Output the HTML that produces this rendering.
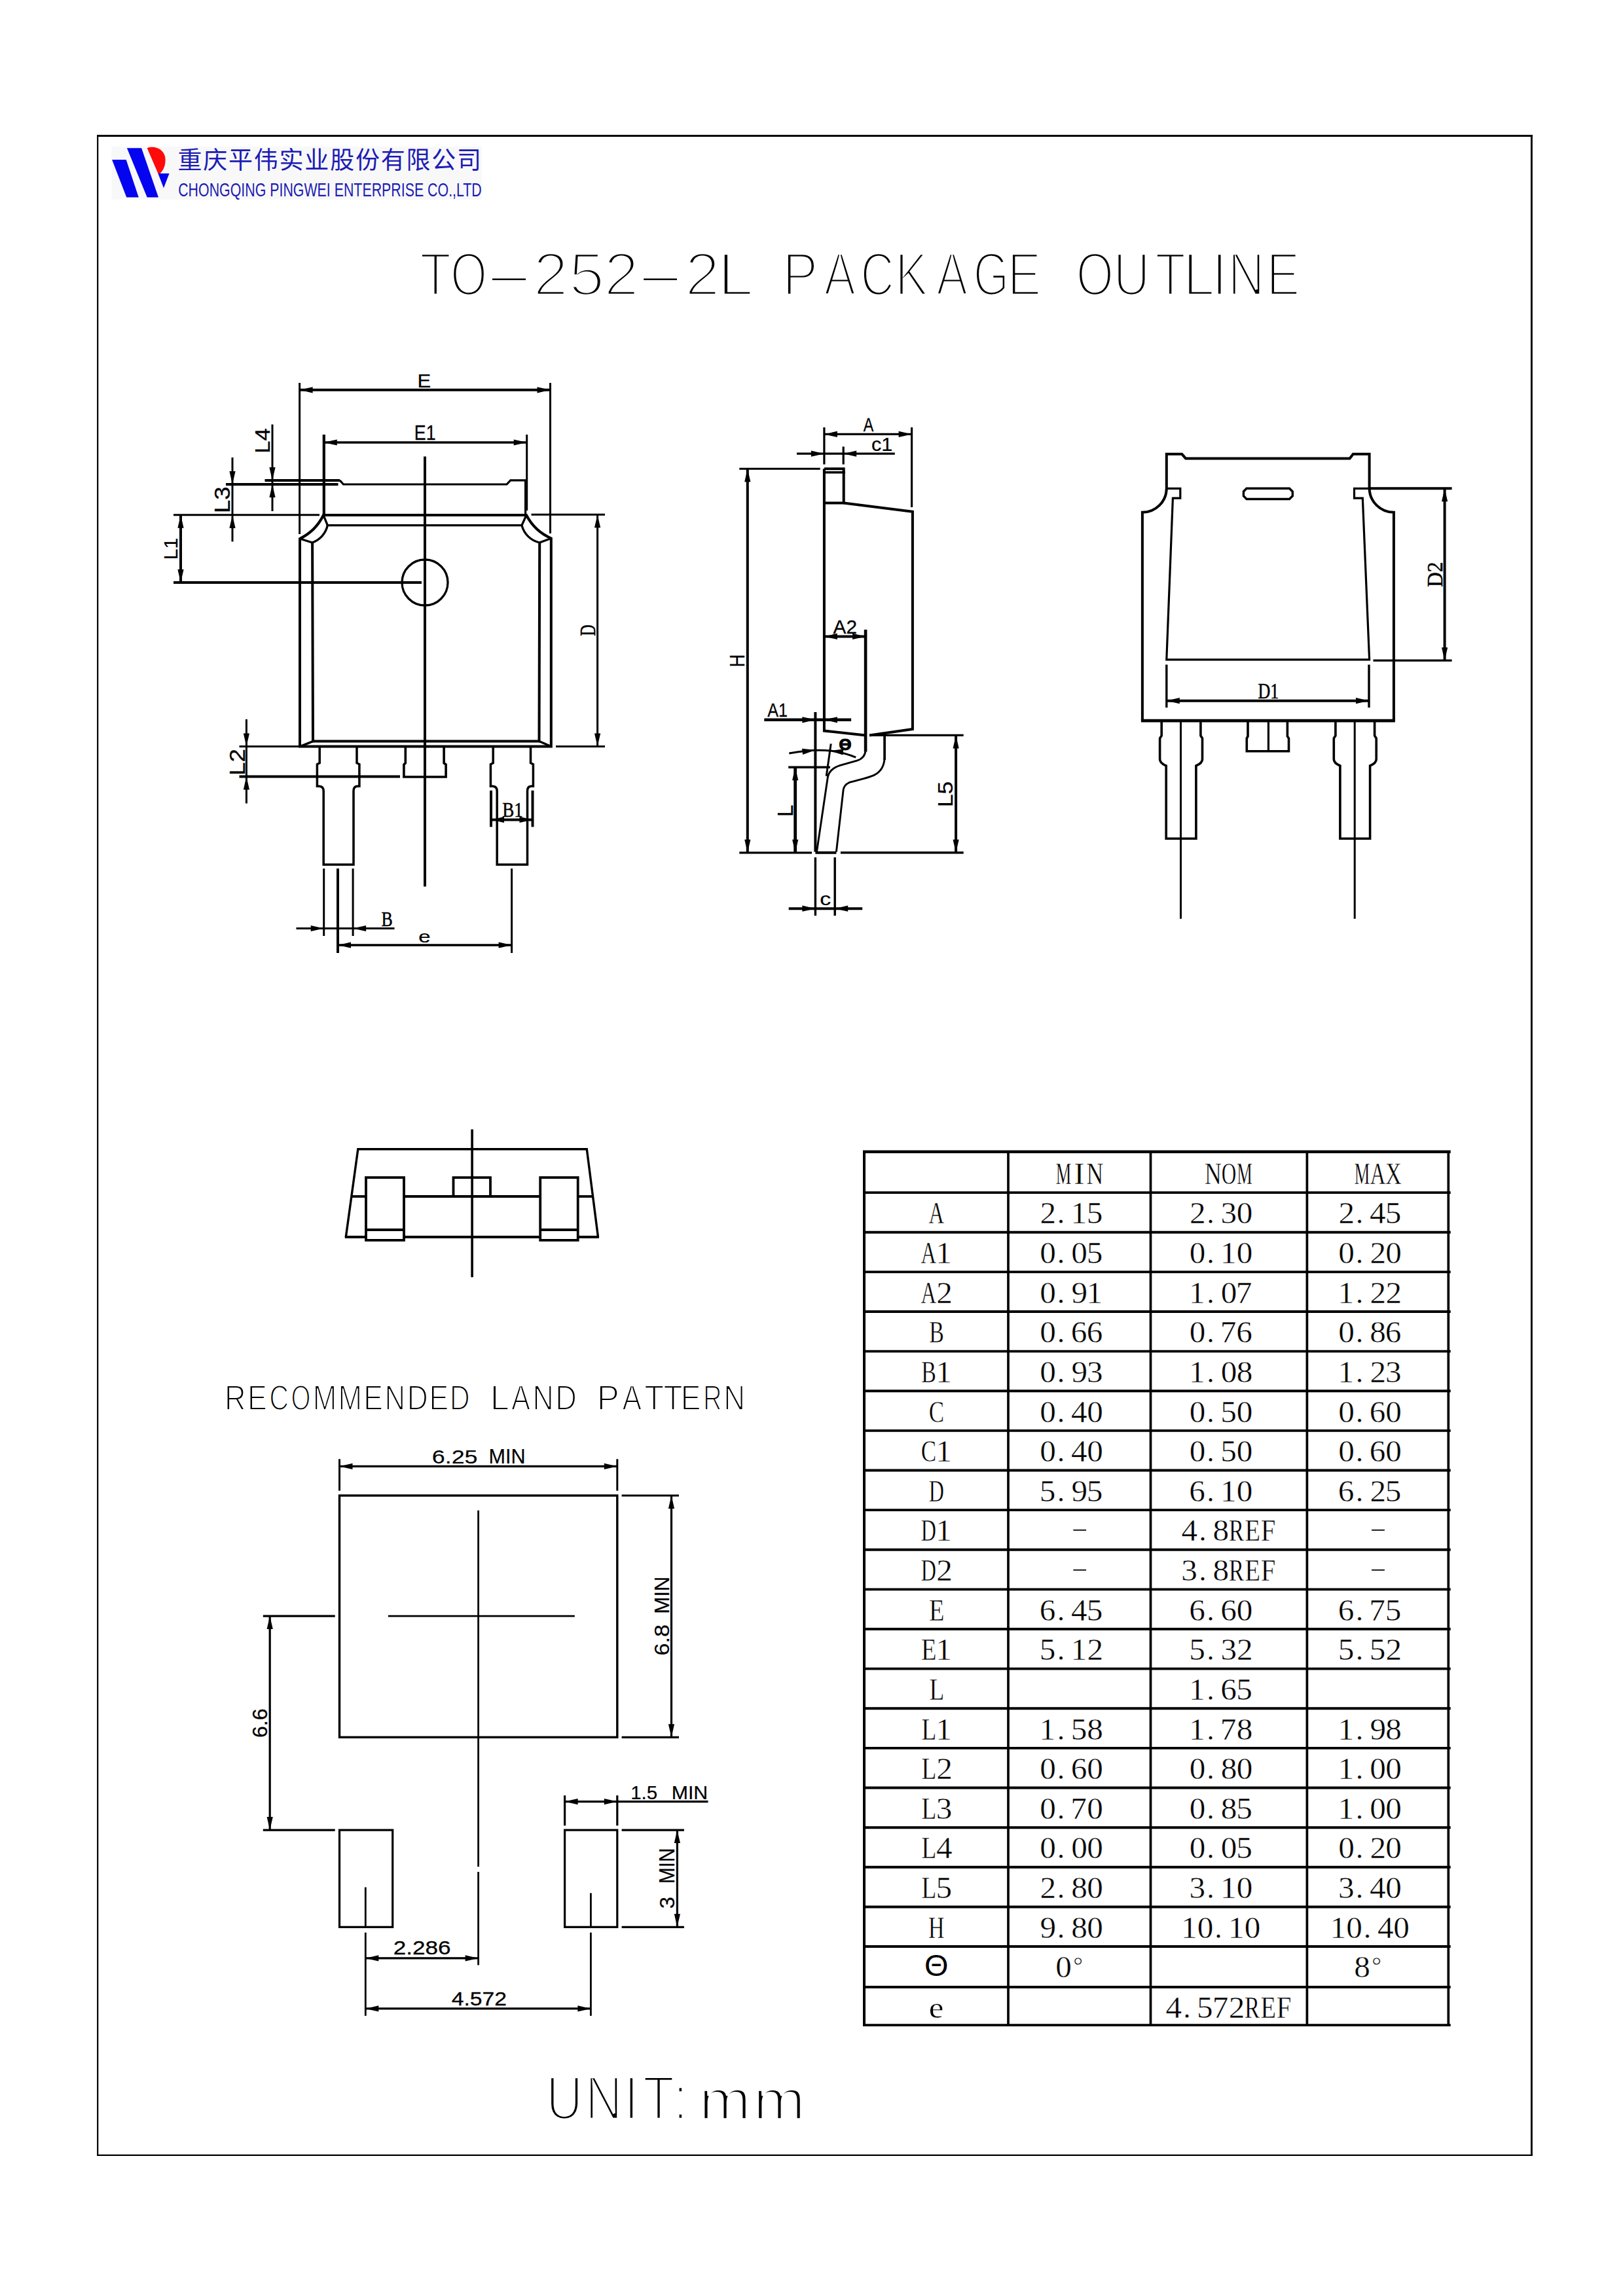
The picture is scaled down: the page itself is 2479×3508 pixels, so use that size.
<!DOCTYPE html>
<html lang="zh"><head><meta charset="utf-8"><title>TO-252-2L PACKAGE OUTLINE</title>
<style>
html,body{margin:0;padding:0;background:#fff}
svg{display:block}
line,path,circle,rect.o{stroke:#000;fill:none;stroke-linecap:butt;stroke-linejoin:miter}
.ar{fill:#000;stroke:none}
text{fill:#000;stroke:none}
.sa{font-family:"Liberation Sans",sans-serif}
.se{font-family:"Liberation Serif",serif}
.tb{font-family:"Liberation Serif",serif;stroke:#fff;stroke-width:0.45px;paint-order:fill stroke}
.thin{font-family:"Liberation Sans",sans-serif;stroke:#fff;paint-order:fill stroke}
.cn{font-family:"Liberation Sans","Noto Sans CJK SC","WenQuanYi Zen Hei",sans-serif;fill:#1c1cb4}
</style></head><body>
<svg width="2479" height="3508" viewBox="0 0 2479 3508">
<rect x="0" y="0" width="2479" height="3508" fill="#fff"/>
<line x1="149.2" y1="206.1" x2="149.2" y2="3294" stroke-width="2.2"/>
<line x1="2339.4" y1="206.1" x2="2339.4" y2="3294" stroke-width="2.9"/>
<line x1="148.1" y1="207.6" x2="2340.9" y2="207.6" stroke-width="3"/>
<line x1="148.1" y1="3292.9" x2="2340.9" y2="3292.9" stroke-width="2.1"/>
<rect x="170.5" y="223.6" width="565.3" height="81.3" fill="#f8f8f8"/>
<polygon points="171.1,244.1 192.7,244.1 211.8,301.4 193.3,301.4" fill="#0404f0"/>
<polygon points="193.9,226.2 216.1,226.2 242,301.4 224.7,301.4" fill="#0404f0"/>
<path d="M224.7 226.2 C236 221.5 253 228 252.6 245 C252.3 256 248 262 243.5 266 L241.4 265 Z" style="fill:#ff0a0a;stroke:none"/>
<polygon points="241.4,265 258.6,265 250,287.2" fill="#0404f0"/>
<text class="cn" x="271.5" y="258" font-size="37" textLength="463.5" lengthAdjust="spacing">重庆平伟实业股份有限公司</text>
<text class="cn" x="272.2" y="300.4" font-size="29.5" textLength="463.6" lengthAdjust="spacingAndGlyphs">CHONGQING PINGWEI ENTERPRISE CO.,LTD</text>
<text class="thin" font-size="92.4" y="451.3" stroke-width="4.6"><tspan x="641.28" textLength="47.98" lengthAdjust="spacingAndGlyphs">T</tspan><tspan x="687.89" textLength="56.05" lengthAdjust="spacingAndGlyphs">O</tspan><tspan x="733.77" textLength="87.55" lengthAdjust="spacingAndGlyphs">-</tspan><tspan x="814.59" textLength="53.32" lengthAdjust="spacingAndGlyphs">2</tspan><tspan x="868.97" textLength="54.26" lengthAdjust="spacingAndGlyphs">5</tspan><tspan x="922.51" textLength="53.18" lengthAdjust="spacingAndGlyphs">2</tspan><tspan x="965.08" textLength="87.04" lengthAdjust="spacingAndGlyphs">-</tspan><tspan x="1046.31" textLength="53.18" lengthAdjust="spacingAndGlyphs">2</tspan><tspan x="1096.19" textLength="51.05" lengthAdjust="spacingAndGlyphs">L</tspan> <tspan x="1195.13" textLength="54.06" lengthAdjust="spacingAndGlyphs">P</tspan><tspan x="1258.76" textLength="48.18" lengthAdjust="spacingAndGlyphs">A</tspan><tspan x="1314.43" textLength="51.24" lengthAdjust="spacingAndGlyphs">C</tspan><tspan x="1367.32" textLength="50.41" lengthAdjust="spacingAndGlyphs">K</tspan><tspan x="1430.37" textLength="47.85" lengthAdjust="spacingAndGlyphs">A</tspan><tspan x="1486.65" textLength="54.3" lengthAdjust="spacingAndGlyphs">G</tspan><tspan x="1538.75" textLength="51.49" lengthAdjust="spacingAndGlyphs">E</tspan> <tspan x="1643.68" textLength="57.28" lengthAdjust="spacingAndGlyphs">O</tspan><tspan x="1700.6" textLength="55.9" lengthAdjust="spacingAndGlyphs">U</tspan><tspan x="1764.36" textLength="46.91" lengthAdjust="spacingAndGlyphs">T</tspan><tspan x="1806.88" textLength="48.49" lengthAdjust="spacingAndGlyphs">L</tspan><tspan x="1850.84" textLength="23.92" lengthAdjust="spacingAndGlyphs">I</tspan><tspan x="1875.74" textLength="55.78" lengthAdjust="spacingAndGlyphs">N</tspan><tspan x="1934.55" textLength="50.82" lengthAdjust="spacingAndGlyphs">E</tspan></text>
<text class="thin" font-size="53.6" y="2154.4" stroke-width="2"><tspan x="343.06" textLength="32.58" lengthAdjust="spacingAndGlyphs">R</tspan><tspan x="377.99" textLength="29.87" lengthAdjust="spacingAndGlyphs">E</tspan><tspan x="411.23" textLength="29.81" lengthAdjust="spacingAndGlyphs">C</tspan><tspan x="444.46" textLength="29.89" lengthAdjust="spacingAndGlyphs">O</tspan><tspan x="477.78" textLength="36.53" lengthAdjust="spacingAndGlyphs">M</tspan><tspan x="516.58" textLength="36.53" lengthAdjust="spacingAndGlyphs">M</tspan><tspan x="555.31" textLength="29.74" lengthAdjust="spacingAndGlyphs">E</tspan><tspan x="587.5" textLength="31.59" lengthAdjust="spacingAndGlyphs">N</tspan><tspan x="621.84" textLength="32.01" lengthAdjust="spacingAndGlyphs">D</tspan><tspan x="655.51" textLength="29.74" lengthAdjust="spacingAndGlyphs">E</tspan><tspan x="686.68" textLength="30.97" lengthAdjust="spacingAndGlyphs">D</tspan> <tspan x="748.81" textLength="29.21" lengthAdjust="spacingAndGlyphs">L</tspan><tspan x="780.91" textLength="28.89" lengthAdjust="spacingAndGlyphs">A</tspan><tspan x="813.5" textLength="32.28" lengthAdjust="spacingAndGlyphs">N</tspan><tspan x="848.35" textLength="32.66" lengthAdjust="spacingAndGlyphs">D</tspan> <tspan x="911.75" textLength="34.1" lengthAdjust="spacingAndGlyphs">P</tspan><tspan x="950.39" textLength="29.52" lengthAdjust="spacingAndGlyphs">A</tspan><tspan x="984.18" textLength="29.96" lengthAdjust="spacingAndGlyphs">T</tspan><tspan x="1013.55" textLength="29.03" lengthAdjust="spacingAndGlyphs">T</tspan><tspan x="1039.75" textLength="30.79" lengthAdjust="spacingAndGlyphs">E</tspan><tspan x="1074.12" textLength="28.55" lengthAdjust="spacingAndGlyphs">R</tspan><tspan x="1105.3" textLength="32.97" lengthAdjust="spacingAndGlyphs">N</tspan></text>
<text class="thin" font-size="94.6" y="3238.2" stroke-width="4.6"><tspan x="834.16" textLength="55.77" lengthAdjust="spacingAndGlyphs">U</tspan><tspan x="893.98" textLength="56.5" lengthAdjust="spacingAndGlyphs">N</tspan><tspan x="953.55" textLength="21.69" lengthAdjust="spacingAndGlyphs">I</tspan><tspan x="981.92" textLength="48.11" lengthAdjust="spacingAndGlyphs">T</tspan><tspan x="1028.5" textLength="21.69" lengthAdjust="spacingAndGlyphs">:</tspan></text>
<text class="thin" font-size="85" y="3237.7" stroke-width="3.6"><tspan x="1067.87" textLength="79.21" lengthAdjust="spacingAndGlyphs">m</tspan><tspan x="1150.63" textLength="79.59" lengthAdjust="spacingAndGlyphs">m</tspan></text>
<path d="M494 787 A78 78 0 0 1 458 823 L458 1140.6 L841.8 1140.6 L841.8 822.5 A78 78 0 0 1 804 787 Z" stroke-width="4"/>
<path d="M494 787 L500.3 802.7 L797 802.7 L804 787" stroke-width="3.3"/>
<path d="M500.3 802.7 A36 36 0 0 1 477 829 L458 823" stroke-width="3.3"/>
<path d="M797 802.7 A36 36 0 0 0 824 829 L841.8 822.5" stroke-width="3.3"/>
<path d="M477.1 829 L478 1132.6 L823.5 1132.6 L824.2 829" stroke-width="4"/>
<path d="M458 1140.6 L478 1132.6 M841.8 1140.6 L823.5 1132.6" stroke-width="3.3"/>
<path d="M519 733.9 L524.5 740 L774 740 L779.8 733.9 L802.6 733.9 L802.6 787" stroke-width="3.2"/>
<circle cx="649" cy="890" r="35" stroke-width="3.3"/>
<line x1="649" y1="697.5" x2="649" y2="1354.5" stroke-width="4"/>
<line x1="457.6" y1="585" x2="457.6" y2="816" stroke-width="3"/>
<line x1="840.5" y1="585" x2="840.5" y2="815" stroke-width="3"/>
<line x1="457.6" y1="595.8" x2="840.5" y2="595.8" stroke-width="4"/>
<polygon class="ar" points="457.6,595.8 477.6,591.2 477.6,600.4"/>
<polygon class="ar" points="840.5,595.8 820.5,600.4 820.5,591.2"/>
<line x1="494.8" y1="664" x2="494.8" y2="787" stroke-width="4.2"/>
<line x1="804.7" y1="664" x2="804.7" y2="780" stroke-width="3"/>
<line x1="494.8" y1="676" x2="804.7" y2="676" stroke-width="3.3"/>
<polygon class="ar" points="494.8,676 514.8,671.4 514.8,680.6"/>
<polygon class="ar" points="804.7,676 784.7,680.6 784.7,671.4"/>
<line x1="404.5" y1="733.9" x2="519" y2="733.9" stroke-width="4"/>
<line x1="416" y1="648.5" x2="416" y2="781" stroke-width="3"/>
<polygon class="ar" points="416,733.9 411.4,713.9 420.6,713.9"/>
<polygon class="ar" points="416,740 420.6,760 411.4,760"/>
<line x1="345" y1="740" x2="516.5" y2="740" stroke-width="4"/>
<line x1="355" y1="699" x2="355" y2="827.5" stroke-width="3"/>
<polygon class="ar" points="355,740 350.4,720 359.6,720"/>
<polygon class="ar" points="355,787 359.6,807 350.4,807"/>
<line x1="265" y1="786.8" x2="488" y2="786.8" stroke-width="3"/>
<line x1="265" y1="890" x2="644" y2="890" stroke-width="4"/>
<line x1="276" y1="786.8" x2="276" y2="890" stroke-width="4"/>
<polygon class="ar" points="276,786.8 280.6,806.8 271.4,806.8"/>
<polygon class="ar" points="276,890 271.4,870 280.6,870"/>
<line x1="811.5" y1="786.3" x2="924" y2="786.3" stroke-width="3"/>
<line x1="849" y1="1140.6" x2="924" y2="1140.6" stroke-width="3"/>
<line x1="912.6" y1="786.3" x2="912.6" y2="1140.6" stroke-width="3"/>
<polygon class="ar" points="912.6,786.3 917.2,806.3 908,806.3"/>
<polygon class="ar" points="912.6,1140.6 908,1120.6 917.2,1120.6"/>
<path d="M488.2 1140.6 L488.2 1165.8 L484.4 1167.8 L484.4 1201.3 L487.6 1201.3 Q494.2 1201.8 494.2 1208.7 L494.2 1321 L540 1321 L540 1208.7 Q540 1201.8 545.6 1201.3 L548.9 1201.3 L548.9 1167.8 L545 1165.8 L545 1140.6" stroke-width="3.5"/>
<path d="M753.2 1140.6 L753.2 1165.8 L749.4 1167.8 L749.4 1201.3 L752.6 1201.3 Q759.2 1201.8 759.2 1208.7 L759.2 1321 L805.5 1321 L805.5 1208.7 Q805.5 1201.8 811.1 1201.3 L814.4 1201.3 L814.4 1167.8 L810.5 1165.8 L810.5 1140.6" stroke-width="3.5"/>
<path d="M619.3 1140.6 L619.3 1166 L616.9 1168 L616.9 1187 L681.1 1187 L681.1 1168 L678.1 1166 L678.1 1140.6" stroke-width="3.6"/>
<line x1="365.5" y1="1140.6" x2="458" y2="1140.6" stroke-width="3"/>
<line x1="365.5" y1="1186.5" x2="611" y2="1186.5" stroke-width="4"/>
<line x1="376.4" y1="1099" x2="376.4" y2="1227.5" stroke-width="3"/>
<polygon class="ar" points="376.4,1140.6 371.8,1120.6 381,1120.6"/>
<polygon class="ar" points="376.4,1186.5 381,1206.5 371.8,1206.5"/>
<line x1="750" y1="1207.8" x2="750" y2="1263.4" stroke-width="4"/>
<line x1="813.5" y1="1207.8" x2="813.5" y2="1263.4" stroke-width="4"/>
<line x1="750" y1="1252.4" x2="813.5" y2="1252.4" stroke-width="4"/>
<polygon class="ar" points="750,1252.4 770,1247.8 770,1257"/>
<polygon class="ar" points="813.5,1252.4 793.5,1257 793.5,1247.8"/>
<line x1="494.7" y1="1327" x2="494.7" y2="1430" stroke-width="3"/>
<line x1="539.1" y1="1327" x2="539.1" y2="1430" stroke-width="3"/>
<line x1="452.5" y1="1418.5" x2="602.5" y2="1418.5" stroke-width="3"/>
<polygon class="ar" points="494.7,1418.5 474.7,1423.1 474.7,1413.9"/>
<polygon class="ar" points="539.1,1418.5 559.1,1413.9 559.1,1423.1"/>
<line x1="516" y1="1327" x2="516" y2="1456" stroke-width="4"/>
<line x1="781.6" y1="1327" x2="781.6" y2="1456" stroke-width="3"/>
<line x1="516" y1="1444" x2="781.6" y2="1444" stroke-width="3.3"/>
<polygon class="ar" points="516,1444 536,1439.4 536,1448.6"/>
<polygon class="ar" points="781.6,1444 761.6,1448.6 761.6,1439.4"/>
<path d="M1258.9 716.2 L1258.9 1116.6 L1322.1 1123.4 M1328 1123.4 L1393.9 1113.9 L1393.9 781.8 L1288.7 768.6" stroke-width="4"/>
<path d="M1258.9 716.2 L1288.7 716.2 L1288.7 768.6 L1258.9 768.6" stroke-width="4"/>
<line x1="1258.9" y1="721.7" x2="1291" y2="721.7" stroke-width="3.6"/>
<line x1="1322.1" y1="962.1" x2="1322.1" y2="1148.5" stroke-width="4.6"/>
<path d="M1322.1 1146 C1321.5 1156 1316 1160 1309 1162.1 L1283.3 1169.4 C1272 1173 1266 1179 1264.4 1187.1 L1247.5 1301.5" stroke-width="2.9"/>
<line x1="1351.1" y1="1123.4" x2="1351.1" y2="1161" stroke-width="3.7"/>
<path d="M1351.1 1158 C1350.5 1172 1344 1180 1335 1184.4 C1322 1190 1308 1192 1296.9 1195.7 C1291 1198.5 1289 1202 1288.2 1206 L1277.4 1301.5" stroke-width="2.9"/>
<line x1="1245.4" y1="1302.8" x2="1277.4" y2="1302.8" stroke-width="4"/>
<line x1="1258.9" y1="653" x2="1258.9" y2="709.5" stroke-width="3.2"/>
<line x1="1392.6" y1="653" x2="1392.6" y2="775" stroke-width="3.2"/>
<line x1="1258.9" y1="663.4" x2="1392.6" y2="663.4" stroke-width="3.4"/>
<polygon class="ar" points="1258.9,663.4 1278.9,658.8 1278.9,668"/>
<polygon class="ar" points="1392.6,663.4 1372.6,668 1372.6,658.8"/>
<line x1="1288.2" y1="682.4" x2="1288.2" y2="709.5" stroke-width="3.2"/>
<line x1="1217" y1="693.2" x2="1366.8" y2="693.2" stroke-width="3.2"/>
<polygon class="ar" points="1258.9,693.2 1238.9,697.8 1238.9,688.6"/>
<polygon class="ar" points="1288.2,693.2 1308.2,688.6 1308.2,697.8"/>
<line x1="1129.3" y1="716.2" x2="1252.7" y2="716.2" stroke-width="3"/>
<line x1="1129.3" y1="1302.8" x2="1240" y2="1302.8" stroke-width="3.2"/>
<line x1="1141.8" y1="716.2" x2="1141.8" y2="1302.8" stroke-width="4"/>
<polygon class="ar" points="1141.8,716.2 1146.4,736.2 1137.2,736.2"/>
<polygon class="ar" points="1141.8,1302.8 1137.2,1282.8 1146.4,1282.8"/>
<line x1="1258.9" y1="972.4" x2="1322.1" y2="972.4" stroke-width="4"/>
<polygon class="ar" points="1258.9,972.4 1278.9,967.8 1278.9,977"/>
<polygon class="ar" points="1322.1,972.4 1302.1,977 1302.1,967.8"/>
<line x1="1245.4" y1="1088.1" x2="1245.4" y2="1301.5" stroke-width="4"/>
<line x1="1167.3" y1="1099.8" x2="1300.1" y2="1099.8" stroke-width="4.4"/>
<polygon class="ar" points="1245.4,1099.8 1225.4,1104.4 1225.4,1095.2"/>
<polygon class="ar" points="1258.9,1099.8 1278.9,1095.2 1278.9,1104.4"/>
<line x1="1269.2" y1="1136.4" x2="1262.2" y2="1185.7" stroke-width="3"/>
<path d="M1205.3 1151 Q1240 1144.5 1268 1147 Q1290 1150 1307.2 1157.2" stroke-width="3"/>
<polygon class="ar" points="1245.4,1146 1226.09,1152.95 1224.99,1143.82"/>
<polygon class="ar" points="1268,1147 1288.36,1144.41 1287.44,1153.57"/>
<line x1="1204.2" y1="1172.2" x2="1267.9" y2="1172.2" stroke-width="3.4"/>
<line x1="1214.7" y1="1172.2" x2="1214.7" y2="1302.8" stroke-width="4.8"/>
<polygon class="ar" points="1214.7,1172.2 1219.3,1192.2 1210.1,1192.2"/>
<polygon class="ar" points="1214.7,1302.8 1210.1,1282.8 1219.3,1282.8"/>
<line x1="1328" y1="1123.4" x2="1471.7" y2="1123.4" stroke-width="3.4"/>
<line x1="1283.9" y1="1302.8" x2="1471.7" y2="1302.8" stroke-width="3.4"/>
<line x1="1460.1" y1="1123.4" x2="1460.1" y2="1302.8" stroke-width="4"/>
<polygon class="ar" points="1460.1,1123.4 1464.7,1143.4 1455.5,1143.4"/>
<polygon class="ar" points="1460.1,1302.8 1455.5,1282.8 1464.7,1282.8"/>
<line x1="1245.4" y1="1309.9" x2="1245.4" y2="1399" stroke-width="3.4"/>
<line x1="1275.2" y1="1309.9" x2="1275.2" y2="1399" stroke-width="3.4"/>
<line x1="1204.7" y1="1388.2" x2="1317.2" y2="1388.2" stroke-width="4"/>
<polygon class="ar" points="1245.4,1388.2 1225.4,1392.8 1225.4,1383.6"/>
<polygon class="ar" points="1275.2,1388.2 1295.2,1383.6 1295.2,1392.8"/>
<path d="M1744.9 1101.1 L1744.9 782.8 A36.9 36.9 0 0 0 1781.8 746.3 L1781.8 693.8 L1805.2 693.8 L1811.1 700.4 L2061.6 700.4 L2066.8 693.8 L2091.6 693.8 L2091.6 746.3 A37.3 37.3 0 0 0 2128.9 782.8 L2128.9 1101.1" stroke-width="4"/>
<line x1="1742.9" y1="1101.1" x2="2130.9" y2="1101.1" stroke-width="4.8"/>
<path d="M1781.8 746.3 L1802.8 746.3 L1802.8 761.1 L1791.4 761.1 L1781.8 1007.8 L2091.6 1007.8 L2081.3 761.1 L2068.5 761.1 L2068.5 746.3 L2091.6 746.3" stroke-width="3.2"/>
<path d="M1904 746.3 L1969.5 746.3 L1974.3 751 L1974.3 757.8 L1969.5 762.5 L1904 762.5 L1899.4 757.8 L1899.4 751 Z" stroke-width="3.4"/>
<line x1="2091.6" y1="746.3" x2="2217.6" y2="746.3" stroke-width="4"/>
<line x1="2097.5" y1="1009.2" x2="2217.6" y2="1009.2" stroke-width="3.2"/>
<line x1="2206.6" y1="746.3" x2="2206.6" y2="1009.2" stroke-width="4"/>
<polygon class="ar" points="2206.6,746.3 2211.2,766.3 2202,766.3"/>
<polygon class="ar" points="2206.6,1009.2 2202,989.2 2211.2,989.2"/>
<line x1="1781.8" y1="1015.5" x2="1781.8" y2="1081.1" stroke-width="3.4"/>
<line x1="2091" y1="1015.5" x2="2091" y2="1081.1" stroke-width="3.4"/>
<line x1="1781.8" y1="1070.7" x2="2091" y2="1070.7" stroke-width="4"/>
<polygon class="ar" points="1781.8,1070.7 1801.8,1066.1 1801.8,1075.3"/>
<polygon class="ar" points="2091,1070.7 2071,1075.3 2071,1066.1"/>
<path d="M1774.2 1101 L1774.2 1124 L1771.6 1128 L1771.6 1160 Q1771.6 1166 1781.2 1170 L1781.2 1281.2 L1826.9 1281.2 L1826.9 1170 Q1836.5 1166 1836.5 1160 L1836.5 1128 L1833.9 1124 L1833.9 1101" stroke-width="3.6"/>
<path d="M2039.9 1101 L2039.9 1124 L2037.3 1128 L2037.3 1160 Q2037.3 1166 2046.9 1170 L2046.9 1281.2 L2092.6 1281.2 L2092.6 1170 Q2102.2 1166 2102.2 1160 L2102.2 1128 L2099.6 1124 L2099.6 1101" stroke-width="3.6"/>
<line x1="1803.5" y1="1101" x2="1803.5" y2="1403.7" stroke-width="3"/>
<line x1="2069.2" y1="1101" x2="2069.2" y2="1403.7" stroke-width="3"/>
<path d="M1906 1101 L1906 1125 L1904.3 1128 L1904.3 1147.7 L1968.5 1147.7 L1968.5 1128 L1966.4 1125 L1966.4 1101" stroke-width="3.6"/>
<line x1="1937.4" y1="1101" x2="1937.4" y2="1147.7" stroke-width="3.2"/>
<path d="M528.3 1890 L546.8 1755.8 L896.3 1755.8 L913.5 1890" stroke-width="3.4"/>
<line x1="526.8" y1="1890" x2="559" y2="1890" stroke-width="3.8"/>
<line x1="617" y1="1890" x2="823.7" y2="1890" stroke-width="3.8"/>
<line x1="882.7" y1="1890" x2="915" y2="1890" stroke-width="3.8"/>
<line x1="537" y1="1828" x2="559" y2="1828" stroke-width="3.8"/>
<line x1="617" y1="1828" x2="823.7" y2="1828" stroke-width="3.8"/>
<line x1="882.7" y1="1828" x2="906.5" y2="1828" stroke-width="3.8"/>
<rect class="o" x="559" y="1799.1" width="58" height="95.8" stroke-width="3.8"/>
<rect class="o" x="825.2" y="1799.1" width="57.5" height="95.8" stroke-width="3.8"/>
<line x1="559" y1="1879" x2="617" y2="1879" stroke-width="3.8"/>
<line x1="825.2" y1="1879" x2="882.7" y2="1879" stroke-width="3.8"/>
<path d="M692.5 1828 L692.5 1799.1 L749 1799.1 L749 1828" stroke-width="3.8"/>
<line x1="721.1" y1="1725.5" x2="721.1" y2="1951.4" stroke-width="3.6"/>
<rect class="o" x="518.5" y="2285" width="424.3" height="369.3" stroke-width="3.4"/>
<line x1="730.6" y1="2307.8" x2="730.6" y2="2852.1" stroke-width="2.8"/>
<line x1="730.6" y1="2860" x2="730.6" y2="3002.4" stroke-width="2.8"/>
<line x1="592.9" y1="2469.1" x2="877.8" y2="2469.1" stroke-width="2.8"/>
<line x1="518.5" y1="2229.3" x2="518.5" y2="2277.6" stroke-width="3"/>
<line x1="942.8" y1="2229.3" x2="942.8" y2="2277.6" stroke-width="3"/>
<line x1="518.5" y1="2240.4" x2="942.8" y2="2240.4" stroke-width="3.4"/>
<polygon class="ar" points="518.5,2240.4 538.5,2235.8 538.5,2245"/>
<polygon class="ar" points="942.8,2240.4 922.8,2245 922.8,2235.8"/>
<line x1="949.6" y1="2285" x2="1037" y2="2285" stroke-width="3.2"/>
<line x1="949.6" y1="2654.3" x2="1037" y2="2654.3" stroke-width="3.2"/>
<line x1="1025.5" y1="2285" x2="1025.5" y2="2654.3" stroke-width="3.2"/>
<polygon class="ar" points="1025.5,2285 1030.1,2305 1020.9,2305"/>
<polygon class="ar" points="1025.5,2654.3 1020.9,2634.3 1030.1,2634.3"/>
<line x1="401.8" y1="2469.1" x2="511.7" y2="2469.1" stroke-width="3.2"/>
<line x1="401.8" y1="2796.1" x2="511.7" y2="2796.1" stroke-width="3.2"/>
<line x1="412.2" y1="2469.1" x2="412.2" y2="2796.1" stroke-width="3.2"/>
<polygon class="ar" points="412.2,2469.1 416.8,2489.1 407.6,2489.1"/>
<polygon class="ar" points="412.2,2796.1 407.6,2776.1 416.8,2776.1"/>
<rect class="o" x="518.5" y="2796.1" width="81.2" height="148.2" stroke-width="3.2"/>
<rect class="o" x="862.6" y="2796.1" width="80.2" height="148.2" stroke-width="3.2"/>
<line x1="558.3" y1="2883.5" x2="558.3" y2="2944.3" stroke-width="2.8"/>
<line x1="558.3" y1="2952.7" x2="558.3" y2="3079.9" stroke-width="2.8"/>
<line x1="902.4" y1="2892.4" x2="902.4" y2="2944.3" stroke-width="2.8"/>
<line x1="902.4" y1="2952.7" x2="902.4" y2="3079.9" stroke-width="2.8"/>
<line x1="862.6" y1="2743.2" x2="862.6" y2="2789.3" stroke-width="3.2"/>
<line x1="942.8" y1="2743.2" x2="942.8" y2="2789.3" stroke-width="3.2"/>
<line x1="862.6" y1="2752.6" x2="942.8" y2="2752.6" stroke-width="3.2"/>
<polygon class="ar" points="862.6,2752.6 882.6,2748 882.6,2757.2"/>
<polygon class="ar" points="942.8,2752.6 922.8,2757.2 922.8,2748"/>
<line x1="942.8" y1="2752.6" x2="1081.5" y2="2752.6" stroke-width="3.2"/>
<line x1="949.6" y1="2796.1" x2="1044.9" y2="2796.1" stroke-width="3.2"/>
<line x1="949.6" y1="2944.3" x2="1044.9" y2="2944.3" stroke-width="3.2"/>
<line x1="1034.4" y1="2796.1" x2="1034.4" y2="2944.3" stroke-width="3.2"/>
<polygon class="ar" points="1034.4,2796.1 1039,2816.1 1029.8,2816.1"/>
<polygon class="ar" points="1034.4,2944.3 1029.8,2924.3 1039,2924.3"/>
<line x1="558.3" y1="2991.9" x2="730.6" y2="2991.9" stroke-width="3.2"/>
<polygon class="ar" points="558.3,2991.9 578.3,2987.3 578.3,2996.5"/>
<polygon class="ar" points="730.6,2991.9 710.6,2996.5 710.6,2987.3"/>
<line x1="558.3" y1="3068.9" x2="902.4" y2="3068.9" stroke-width="3.2"/>
<polygon class="ar" points="558.3,3068.9 578.3,3064.3 578.3,3073.5"/>
<polygon class="ar" points="902.4,3068.9 882.4,3073.5 882.4,3064.3"/>
<text class="sa" font-size="30" transform="translate(637.47 591.88) scale(1.0363 0.9957)" style="stroke:#000;stroke-width:0.25">E</text>
<text class="sa" font-size="30" transform="translate(632.83 672.27) scale(0.8926 1.0199)" style="stroke:#000;stroke-width:0.26">E1</text>
<text class="sa" font-size="30" transform="translate(411.98 692.81) rotate(-90) scale(1.1539 1.0490)" style="stroke:#000;stroke-width:0.23">L4</text>
<text class="sa" font-size="30" transform="translate(351.35 784.07) rotate(-90) scale(1.2183 1.1040)" style="stroke:#000;stroke-width:0.22">L3</text>
<text class="sa" font-size="30" transform="translate(270.88 855.13) rotate(-90) scale(0.9968 0.9860)" style="stroke:#000;stroke-width:0.25">L1</text>
<text class="se" font-size="30" transform="translate(908.58 971.74) rotate(-90) scale(0.8010 1.1369)" style="stroke:#000;stroke-width:0.52">D</text>
<text class="sa" font-size="30" transform="translate(373.68 1184.89) rotate(-90) scale(1.2262 1.1195)" style="stroke:#000;stroke-width:0.21">L2</text>
<text class="se" font-size="30" transform="translate(767.17 1247.66) scale(0.8997 1.0607)" style="stroke:#000;stroke-width:0.51">B1</text>
<text class="se" font-size="30" transform="translate(582.41 1414.96) scale(0.8597 1.0542)" style="stroke:#000;stroke-width:0.52">B</text>
<text class="sa" font-size="30" transform="translate(639.33 1439.53) scale(1.0975 0.8488)" style="stroke:#000;stroke-width:0.26">e</text>
<text class="sa" font-size="30" transform="translate(1318.68 659.17) scale(0.7767 0.9714)" style="stroke:#000;stroke-width:0.29">A</text>
<text class="sa" font-size="30" transform="translate(1330.92 689.49) scale(1.0209 0.9722)" style="stroke:#000;stroke-width:0.25">c1</text>
<text class="sa" font-size="30" transform="translate(1272.57 968.27) scale(0.9950 0.9619)" style="stroke:#000;stroke-width:0.26">A2</text>
<text class="sa" font-size="30" transform="translate(1137.38 1019.53) rotate(-90) scale(0.9160 1.0683)" style="stroke:#000;stroke-width:0.25">H</text>
<text class="sa" font-size="30" transform="translate(1172.28 1095.28) scale(0.8402 0.9957)" style="stroke:#000;stroke-width:0.27">A1</text>
<text class="sa" font-size="30" transform="translate(1281.6 1145.57) scale(0.8108 0.7721)" font-weight="bold" style="stroke:#000;stroke-width:1.52">&#920;</text>
<text class="sa" font-size="30" transform="translate(1211.38 1247.9) rotate(-90) scale(1.1075 1.1071)" style="stroke:#000;stroke-width:0.23">L</text>
<text class="sa" font-size="30" transform="translate(1455.07 1233.18) rotate(-90) scale(1.1788 1.0247)" style="stroke:#000;stroke-width:0.23">L5</text>
<text class="sa" font-size="30" transform="translate(1252.18 1383.21) scale(1.1326 0.8914)" style="stroke:#000;stroke-width:0.25">c</text>
<text class="se" font-size="30" transform="translate(2203.49 897.06) rotate(-90) scale(1.0485 1.0993)" style="stroke:#000;stroke-width:0.47">D2</text>
<text class="se" font-size="30" transform="translate(1921.4 1066.99) scale(0.8677 1.1025)" style="stroke:#000;stroke-width:0.51">D1</text>
<text class="sa" font-size="30" transform="translate(659.78 2235.8) scale(1.1941 1.0122)" style="stroke:#000;stroke-width:0.18">6.25</text>
<text class="sa" font-size="30" transform="translate(746.59 2236.1) scale(1.0203 1.0417)" style="stroke:#000;stroke-width:0.19">MIN</text>
<text class="sa" font-size="30" transform="translate(1022 2529.44) rotate(-90) scale(1.1395 1.0264)" style="stroke:#000;stroke-width:0.18">6.8</text>
<text class="sa" font-size="30" transform="translate(1022.3 2465.86) rotate(-90) scale(1.0423 1.0562)" style="stroke:#000;stroke-width:0.19">MIN</text>
<text class="sa" font-size="30" transform="translate(408.15 2654.98) rotate(-90) scale(1.0704 1.0216)" style="stroke:#000;stroke-width:0.29">6.6</text>
<text class="sa" font-size="30" transform="translate(963.15 2748.51) scale(0.9827 0.9889)" style="stroke:#000;stroke-width:0.2">1.5</text>
<text class="sa" font-size="30" transform="translate(1025.71 2748.8) scale(1.0103 1.0029)" style="stroke:#000;stroke-width:0.2">MIN</text>
<text class="sa" font-size="30" transform="translate(1029.79 2916.15) rotate(-90) scale(1.0968 1.0734)" style="stroke:#000;stroke-width:0.18">3</text>
<text class="sa" font-size="30" transform="translate(1030.1 2878.04) rotate(-90) scale(0.9904 1.1047)" style="stroke:#000;stroke-width:0.19">MIN</text>
<text class="sa" font-size="30" transform="translate(600.68 2986.27) scale(1.1710 0.9699)" style="stroke:#000;stroke-width:0.28">2.286</text>
<text class="sa" font-size="30" transform="translate(689.68 3063.77) scale(1.1238 0.9699)" style="stroke:#000;stroke-width:0.29">4.572</text>
<line x1="1318" y1="1759.8" x2="2215.7" y2="1759.8" stroke-width="4.4"/>
<line x1="1318" y1="1822.1" x2="2215.7" y2="1822.1" stroke-width="3.9"/>
<line x1="1318" y1="1882.73" x2="2215.7" y2="1882.73" stroke-width="3.9"/>
<line x1="1318" y1="1943.36" x2="2215.7" y2="1943.36" stroke-width="3.9"/>
<line x1="1318" y1="2003.99" x2="2215.7" y2="2003.99" stroke-width="3.9"/>
<line x1="1318" y1="2064.62" x2="2215.7" y2="2064.62" stroke-width="3.9"/>
<line x1="1318" y1="2125.25" x2="2215.7" y2="2125.25" stroke-width="3.9"/>
<line x1="1318" y1="2185.88" x2="2215.7" y2="2185.88" stroke-width="3.9"/>
<line x1="1318" y1="2246.51" x2="2215.7" y2="2246.51" stroke-width="3.9"/>
<line x1="1318" y1="2307.14" x2="2215.7" y2="2307.14" stroke-width="3.9"/>
<line x1="1318" y1="2367.77" x2="2215.7" y2="2367.77" stroke-width="3.9"/>
<line x1="1318" y1="2428.4" x2="2215.7" y2="2428.4" stroke-width="3.9"/>
<line x1="1318" y1="2489.03" x2="2215.7" y2="2489.03" stroke-width="3.9"/>
<line x1="1318" y1="2549.66" x2="2215.7" y2="2549.66" stroke-width="3.9"/>
<line x1="1318" y1="2610.29" x2="2215.7" y2="2610.29" stroke-width="3.9"/>
<line x1="1318" y1="2670.92" x2="2215.7" y2="2670.92" stroke-width="3.9"/>
<line x1="1318" y1="2731.55" x2="2215.7" y2="2731.55" stroke-width="3.9"/>
<line x1="1318" y1="2792.18" x2="2215.7" y2="2792.18" stroke-width="3.9"/>
<line x1="1318" y1="2852.81" x2="2215.7" y2="2852.81" stroke-width="3.9"/>
<line x1="1318" y1="2913.44" x2="2215.7" y2="2913.44" stroke-width="3.9"/>
<line x1="1318" y1="2974.07" x2="2215.7" y2="2974.07" stroke-width="3.9"/>
<line x1="1318" y1="3036" x2="2215.7" y2="3036" stroke-width="3.9"/>
<line x1="1318" y1="3094.1" x2="2215.7" y2="3094.1" stroke-width="3.9"/>
<line x1="1320" y1="1759.8" x2="1320" y2="3094.1" stroke-width="4"/>
<line x1="1540" y1="1759.8" x2="1540" y2="3094.1" stroke-width="3.7"/>
<line x1="1757.5" y1="1759.8" x2="1757.5" y2="3094.1" stroke-width="3.7"/>
<line x1="1996.4" y1="1759.8" x2="1996.4" y2="3094.1" stroke-width="3.7"/>
<line x1="2212.3" y1="1759.8" x2="2212.3" y2="3094.1" stroke-width="3.7"/>
<text class="tb" font-size="46" y="1809"><tspan x="1612.74" textLength="23.54" lengthAdjust="spacingAndGlyphs">M</tspan><tspan x="1640.33" textLength="16.29" lengthAdjust="spacingAndGlyphs">I</tspan><tspan x="1659.47" textLength="25.85" lengthAdjust="spacingAndGlyphs">N</tspan></text>
<text class="tb" font-size="46" y="1809"><tspan x="1839.97" textLength="25.85" lengthAdjust="spacingAndGlyphs">N</tspan><tspan x="1865.72" textLength="22.56" lengthAdjust="spacingAndGlyphs">O</tspan><tspan x="1889.24" textLength="23.54" lengthAdjust="spacingAndGlyphs">M</tspan></text>
<text class="tb" font-size="46" y="1809"><tspan x="2068.74" textLength="23.54" lengthAdjust="spacingAndGlyphs">M</tspan><tspan x="2092.68" textLength="23.56" lengthAdjust="spacingAndGlyphs">A</tspan><tspan x="2116.26" textLength="24.35" lengthAdjust="spacingAndGlyphs">X</tspan></text>
<text class="tb" font-size="46" y="1869.4"><tspan x="1418.48" textLength="23.56" lengthAdjust="spacingAndGlyphs">A</tspan></text>
<text class="tb" font-size="46" y="1869.4"><tspan x="1588.47" textLength="24.61" lengthAdjust="spacingAndGlyphs">2</tspan><tspan x="1614.75">.</tspan><tspan x="1635.51" textLength="24.61" lengthAdjust="spacingAndGlyphs">1</tspan><tspan x="1659.73" textLength="24.61" lengthAdjust="spacingAndGlyphs">5</tspan></text>
<text class="tb" font-size="46" y="1869.4"><tspan x="1816.97" textLength="24.61" lengthAdjust="spacingAndGlyphs">2</tspan><tspan x="1843.25">.</tspan><tspan x="1864.48" textLength="24.61" lengthAdjust="spacingAndGlyphs">3</tspan><tspan x="1888.69" textLength="24.61" lengthAdjust="spacingAndGlyphs">0</tspan></text>
<text class="tb" font-size="46" y="1869.4"><tspan x="2044.47" textLength="24.61" lengthAdjust="spacingAndGlyphs">2</tspan><tspan x="2070.75">.</tspan><tspan x="2092.1" textLength="24.61" lengthAdjust="spacingAndGlyphs">4</tspan><tspan x="2115.73" textLength="24.61" lengthAdjust="spacingAndGlyphs">5</tspan></text>
<text class="tb" font-size="46" y="1930.03"><tspan x="1406.48" textLength="23.56" lengthAdjust="spacingAndGlyphs">A</tspan><tspan x="1429.31" textLength="24.61" lengthAdjust="spacingAndGlyphs">1</tspan></text>
<text class="tb" font-size="46" y="1930.03"><tspan x="1588.19" textLength="24.61" lengthAdjust="spacingAndGlyphs">0</tspan><tspan x="1614.75">.</tspan><tspan x="1636.19" textLength="24.61" lengthAdjust="spacingAndGlyphs">0</tspan><tspan x="1659.73" textLength="24.61" lengthAdjust="spacingAndGlyphs">5</tspan></text>
<text class="tb" font-size="46" y="1930.03"><tspan x="1816.69" textLength="24.61" lengthAdjust="spacingAndGlyphs">0</tspan><tspan x="1843.25">.</tspan><tspan x="1864.01" textLength="24.61" lengthAdjust="spacingAndGlyphs">1</tspan><tspan x="1888.69" textLength="24.61" lengthAdjust="spacingAndGlyphs">0</tspan></text>
<text class="tb" font-size="46" y="1930.03"><tspan x="2044.19" textLength="24.61" lengthAdjust="spacingAndGlyphs">0</tspan><tspan x="2070.75">.</tspan><tspan x="2092.47" textLength="24.61" lengthAdjust="spacingAndGlyphs">2</tspan><tspan x="2116.2" textLength="24.61" lengthAdjust="spacingAndGlyphs">0</tspan></text>
<text class="tb" font-size="46" y="1990.66"><tspan x="1406.48" textLength="23.56" lengthAdjust="spacingAndGlyphs">A</tspan><tspan x="1430.27" textLength="24.61" lengthAdjust="spacingAndGlyphs">2</tspan></text>
<text class="tb" font-size="46" y="1990.66"><tspan x="1588.19" textLength="24.61" lengthAdjust="spacingAndGlyphs">0</tspan><tspan x="1614.75">.</tspan><tspan x="1636.41" textLength="24.61" lengthAdjust="spacingAndGlyphs">9</tspan><tspan x="1659.51" textLength="24.61" lengthAdjust="spacingAndGlyphs">1</tspan></text>
<text class="tb" font-size="46" y="1990.66"><tspan x="1816.01" textLength="24.61" lengthAdjust="spacingAndGlyphs">1</tspan><tspan x="1843.25">.</tspan><tspan x="1864.69" textLength="24.61" lengthAdjust="spacingAndGlyphs">0</tspan><tspan x="1887.78" textLength="24.61" lengthAdjust="spacingAndGlyphs">7</tspan></text>
<text class="tb" font-size="46" y="1990.66"><tspan x="2043.51" textLength="24.61" lengthAdjust="spacingAndGlyphs">1</tspan><tspan x="2070.75">.</tspan><tspan x="2092.47" textLength="24.61" lengthAdjust="spacingAndGlyphs">2</tspan><tspan x="2116.47" textLength="24.61" lengthAdjust="spacingAndGlyphs">2</tspan></text>
<text class="tb" font-size="46" y="2051.29"><tspan x="1419.32" textLength="22.63" lengthAdjust="spacingAndGlyphs">B</tspan></text>
<text class="tb" font-size="46" y="2051.29"><tspan x="1588.19" textLength="24.61" lengthAdjust="spacingAndGlyphs">0</tspan><tspan x="1614.75">.</tspan><tspan x="1635.87" textLength="24.61" lengthAdjust="spacingAndGlyphs">6</tspan><tspan x="1659.87" textLength="24.61" lengthAdjust="spacingAndGlyphs">6</tspan></text>
<text class="tb" font-size="46" y="2051.29"><tspan x="1816.69" textLength="24.61" lengthAdjust="spacingAndGlyphs">0</tspan><tspan x="1843.25">.</tspan><tspan x="1863.78" textLength="24.61" lengthAdjust="spacingAndGlyphs">7</tspan><tspan x="1888.37" textLength="24.61" lengthAdjust="spacingAndGlyphs">6</tspan></text>
<text class="tb" font-size="46" y="2051.29"><tspan x="2044.19" textLength="24.61" lengthAdjust="spacingAndGlyphs">0</tspan><tspan x="2070.75">.</tspan><tspan x="2092.2" textLength="24.61" lengthAdjust="spacingAndGlyphs">8</tspan><tspan x="2115.87" textLength="24.61" lengthAdjust="spacingAndGlyphs">6</tspan></text>
<text class="tb" font-size="46" y="2111.92"><tspan x="1407.32" textLength="22.63" lengthAdjust="spacingAndGlyphs">B</tspan><tspan x="1429.31" textLength="24.61" lengthAdjust="spacingAndGlyphs">1</tspan></text>
<text class="tb" font-size="46" y="2111.92"><tspan x="1588.19" textLength="24.61" lengthAdjust="spacingAndGlyphs">0</tspan><tspan x="1614.75">.</tspan><tspan x="1636.41" textLength="24.61" lengthAdjust="spacingAndGlyphs">9</tspan><tspan x="1659.98" textLength="24.61" lengthAdjust="spacingAndGlyphs">3</tspan></text>
<text class="tb" font-size="46" y="2111.92"><tspan x="1816.01" textLength="24.61" lengthAdjust="spacingAndGlyphs">1</tspan><tspan x="1843.25">.</tspan><tspan x="1864.69" textLength="24.61" lengthAdjust="spacingAndGlyphs">0</tspan><tspan x="1888.69" textLength="24.61" lengthAdjust="spacingAndGlyphs">8</tspan></text>
<text class="tb" font-size="46" y="2111.92"><tspan x="2043.51" textLength="24.61" lengthAdjust="spacingAndGlyphs">1</tspan><tspan x="2070.75">.</tspan><tspan x="2092.47" textLength="24.61" lengthAdjust="spacingAndGlyphs">2</tspan><tspan x="2115.98" textLength="24.61" lengthAdjust="spacingAndGlyphs">3</tspan></text>
<text class="tb" font-size="46" y="2172.55"><tspan x="1418.86" textLength="23.37" lengthAdjust="spacingAndGlyphs">C</tspan></text>
<text class="tb" font-size="46" y="2172.55"><tspan x="1588.19" textLength="24.61" lengthAdjust="spacingAndGlyphs">0</tspan><tspan x="1614.75">.</tspan><tspan x="1636.1" textLength="24.61" lengthAdjust="spacingAndGlyphs">4</tspan><tspan x="1660.19" textLength="24.61" lengthAdjust="spacingAndGlyphs">0</tspan></text>
<text class="tb" font-size="46" y="2172.55"><tspan x="1816.69" textLength="24.61" lengthAdjust="spacingAndGlyphs">0</tspan><tspan x="1843.25">.</tspan><tspan x="1864.23" textLength="24.61" lengthAdjust="spacingAndGlyphs">5</tspan><tspan x="1888.69" textLength="24.61" lengthAdjust="spacingAndGlyphs">0</tspan></text>
<text class="tb" font-size="46" y="2172.55"><tspan x="2044.19" textLength="24.61" lengthAdjust="spacingAndGlyphs">0</tspan><tspan x="2070.75">.</tspan><tspan x="2091.87" textLength="24.61" lengthAdjust="spacingAndGlyphs">6</tspan><tspan x="2116.2" textLength="24.61" lengthAdjust="spacingAndGlyphs">0</tspan></text>
<text class="tb" font-size="46" y="2233.18"><tspan x="1406.86" textLength="23.37" lengthAdjust="spacingAndGlyphs">C</tspan><tspan x="1429.31" textLength="24.61" lengthAdjust="spacingAndGlyphs">1</tspan></text>
<text class="tb" font-size="46" y="2233.18"><tspan x="1588.19" textLength="24.61" lengthAdjust="spacingAndGlyphs">0</tspan><tspan x="1614.75">.</tspan><tspan x="1636.1" textLength="24.61" lengthAdjust="spacingAndGlyphs">4</tspan><tspan x="1660.19" textLength="24.61" lengthAdjust="spacingAndGlyphs">0</tspan></text>
<text class="tb" font-size="46" y="2233.18"><tspan x="1816.69" textLength="24.61" lengthAdjust="spacingAndGlyphs">0</tspan><tspan x="1843.25">.</tspan><tspan x="1864.23" textLength="24.61" lengthAdjust="spacingAndGlyphs">5</tspan><tspan x="1888.69" textLength="24.61" lengthAdjust="spacingAndGlyphs">0</tspan></text>
<text class="tb" font-size="46" y="2233.18"><tspan x="2044.19" textLength="24.61" lengthAdjust="spacingAndGlyphs">0</tspan><tspan x="2070.75">.</tspan><tspan x="2091.87" textLength="24.61" lengthAdjust="spacingAndGlyphs">6</tspan><tspan x="2116.2" textLength="24.61" lengthAdjust="spacingAndGlyphs">0</tspan></text>
<text class="tb" font-size="46" y="2293.81"><tspan x="1418.87" textLength="23.21" lengthAdjust="spacingAndGlyphs">D</tspan></text>
<text class="tb" font-size="46" y="2293.81"><tspan x="1587.73" textLength="24.61" lengthAdjust="spacingAndGlyphs">5</tspan><tspan x="1614.75">.</tspan><tspan x="1636.41" textLength="24.61" lengthAdjust="spacingAndGlyphs">9</tspan><tspan x="1659.73" textLength="24.61" lengthAdjust="spacingAndGlyphs">5</tspan></text>
<text class="tb" font-size="46" y="2293.81"><tspan x="1816.37" textLength="24.61" lengthAdjust="spacingAndGlyphs">6</tspan><tspan x="1843.25">.</tspan><tspan x="1864.01" textLength="24.61" lengthAdjust="spacingAndGlyphs">1</tspan><tspan x="1888.69" textLength="24.61" lengthAdjust="spacingAndGlyphs">0</tspan></text>
<text class="tb" font-size="46" y="2293.81"><tspan x="2043.87" textLength="24.61" lengthAdjust="spacingAndGlyphs">6</tspan><tspan x="2070.75">.</tspan><tspan x="2092.47" textLength="24.61" lengthAdjust="spacingAndGlyphs">2</tspan><tspan x="2115.73" textLength="24.61" lengthAdjust="spacingAndGlyphs">5</tspan></text>
<text class="tb" font-size="46" y="2354.44"><tspan x="1406.87" textLength="23.21" lengthAdjust="spacingAndGlyphs">D</tspan><tspan x="1429.31" textLength="24.61" lengthAdjust="spacingAndGlyphs">1</tspan></text>
<text class="tb" font-size="46" y="2354.44"><tspan x="1635.8" y="2344.94" font-size="30" textLength="26.92" lengthAdjust="spacingAndGlyphs">-</tspan></text>
<text class="tb" font-size="46" y="2354.44"><tspan x="1804.5" textLength="24.61" lengthAdjust="spacingAndGlyphs">4</tspan><tspan x="1831.15">.</tspan><tspan x="1852.6" textLength="24.61" lengthAdjust="spacingAndGlyphs">8</tspan><tspan x="1876.9" textLength="23.05" lengthAdjust="spacingAndGlyphs">R</tspan><tspan x="1901.54" textLength="23.53" lengthAdjust="spacingAndGlyphs">E</tspan><tspan x="1925.73" textLength="22.64" lengthAdjust="spacingAndGlyphs">F</tspan></text>
<text class="tb" font-size="46" y="2354.44"><tspan x="2091.5" y="2344.94" font-size="30" textLength="26.92" lengthAdjust="spacingAndGlyphs">-</tspan></text>
<text class="tb" font-size="46" y="2415.07"><tspan x="1406.87" textLength="23.21" lengthAdjust="spacingAndGlyphs">D</tspan><tspan x="1430.27" textLength="24.61" lengthAdjust="spacingAndGlyphs">2</tspan></text>
<text class="tb" font-size="46" y="2415.07"><tspan x="1635.8" y="2405.57" font-size="30" textLength="26.92" lengthAdjust="spacingAndGlyphs">-</tspan></text>
<text class="tb" font-size="46" y="2415.07"><tspan x="1804.38" textLength="24.61" lengthAdjust="spacingAndGlyphs">3</tspan><tspan x="1831.15">.</tspan><tspan x="1852.6" textLength="24.61" lengthAdjust="spacingAndGlyphs">8</tspan><tspan x="1876.9" textLength="23.05" lengthAdjust="spacingAndGlyphs">R</tspan><tspan x="1901.54" textLength="23.53" lengthAdjust="spacingAndGlyphs">E</tspan><tspan x="1925.73" textLength="22.64" lengthAdjust="spacingAndGlyphs">F</tspan></text>
<text class="tb" font-size="46" y="2415.07"><tspan x="2091.5" y="2405.57" font-size="30" textLength="26.92" lengthAdjust="spacingAndGlyphs">-</tspan></text>
<text class="tb" font-size="46" y="2475.7"><tspan x="1418.94" textLength="23.53" lengthAdjust="spacingAndGlyphs">E</tspan></text>
<text class="tb" font-size="46" y="2475.7"><tspan x="1587.87" textLength="24.61" lengthAdjust="spacingAndGlyphs">6</tspan><tspan x="1614.75">.</tspan><tspan x="1636.1" textLength="24.61" lengthAdjust="spacingAndGlyphs">4</tspan><tspan x="1659.73" textLength="24.61" lengthAdjust="spacingAndGlyphs">5</tspan></text>
<text class="tb" font-size="46" y="2475.7"><tspan x="1816.37" textLength="24.61" lengthAdjust="spacingAndGlyphs">6</tspan><tspan x="1843.25">.</tspan><tspan x="1864.37" textLength="24.61" lengthAdjust="spacingAndGlyphs">6</tspan><tspan x="1888.69" textLength="24.61" lengthAdjust="spacingAndGlyphs">0</tspan></text>
<text class="tb" font-size="46" y="2475.7"><tspan x="2043.87" textLength="24.61" lengthAdjust="spacingAndGlyphs">6</tspan><tspan x="2070.75">.</tspan><tspan x="2091.28" textLength="24.61" lengthAdjust="spacingAndGlyphs">7</tspan><tspan x="2115.73" textLength="24.61" lengthAdjust="spacingAndGlyphs">5</tspan></text>
<text class="tb" font-size="46" y="2536.33"><tspan x="1406.94" textLength="23.53" lengthAdjust="spacingAndGlyphs">E</tspan><tspan x="1429.31" textLength="24.61" lengthAdjust="spacingAndGlyphs">1</tspan></text>
<text class="tb" font-size="46" y="2536.33"><tspan x="1587.73" textLength="24.61" lengthAdjust="spacingAndGlyphs">5</tspan><tspan x="1614.75">.</tspan><tspan x="1635.51" textLength="24.61" lengthAdjust="spacingAndGlyphs">1</tspan><tspan x="1660.47" textLength="24.61" lengthAdjust="spacingAndGlyphs">2</tspan></text>
<text class="tb" font-size="46" y="2536.33"><tspan x="1816.23" textLength="24.61" lengthAdjust="spacingAndGlyphs">5</tspan><tspan x="1843.25">.</tspan><tspan x="1864.48" textLength="24.61" lengthAdjust="spacingAndGlyphs">3</tspan><tspan x="1888.97" textLength="24.61" lengthAdjust="spacingAndGlyphs">2</tspan></text>
<text class="tb" font-size="46" y="2536.33"><tspan x="2043.73" textLength="24.61" lengthAdjust="spacingAndGlyphs">5</tspan><tspan x="2070.75">.</tspan><tspan x="2091.73" textLength="24.61" lengthAdjust="spacingAndGlyphs">5</tspan><tspan x="2116.47" textLength="24.61" lengthAdjust="spacingAndGlyphs">2</tspan></text>
<text class="tb" font-size="46" y="2596.96"><tspan x="1419.47" textLength="22.82" lengthAdjust="spacingAndGlyphs">L</tspan></text>
<text class="tb" font-size="46" y="2596.96"><tspan x="1816.01" textLength="24.61" lengthAdjust="spacingAndGlyphs">1</tspan><tspan x="1843.25">.</tspan><tspan x="1864.37" textLength="24.61" lengthAdjust="spacingAndGlyphs">6</tspan><tspan x="1888.23" textLength="24.61" lengthAdjust="spacingAndGlyphs">5</tspan></text>
<text class="tb" font-size="46" y="2657.59"><tspan x="1407.47" textLength="22.82" lengthAdjust="spacingAndGlyphs">L</tspan><tspan x="1429.31" textLength="24.61" lengthAdjust="spacingAndGlyphs">1</tspan></text>
<text class="tb" font-size="46" y="2657.59"><tspan x="1587.51" textLength="24.61" lengthAdjust="spacingAndGlyphs">1</tspan><tspan x="1614.75">.</tspan><tspan x="1635.73" textLength="24.61" lengthAdjust="spacingAndGlyphs">5</tspan><tspan x="1660.19" textLength="24.61" lengthAdjust="spacingAndGlyphs">8</tspan></text>
<text class="tb" font-size="46" y="2657.59"><tspan x="1816.01" textLength="24.61" lengthAdjust="spacingAndGlyphs">1</tspan><tspan x="1843.25">.</tspan><tspan x="1863.78" textLength="24.61" lengthAdjust="spacingAndGlyphs">7</tspan><tspan x="1888.69" textLength="24.61" lengthAdjust="spacingAndGlyphs">8</tspan></text>
<text class="tb" font-size="46" y="2657.59"><tspan x="2043.51" textLength="24.61" lengthAdjust="spacingAndGlyphs">1</tspan><tspan x="2070.75">.</tspan><tspan x="2092.41" textLength="24.61" lengthAdjust="spacingAndGlyphs">9</tspan><tspan x="2116.2" textLength="24.61" lengthAdjust="spacingAndGlyphs">8</tspan></text>
<text class="tb" font-size="46" y="2718.22"><tspan x="1407.47" textLength="22.82" lengthAdjust="spacingAndGlyphs">L</tspan><tspan x="1430.27" textLength="24.61" lengthAdjust="spacingAndGlyphs">2</tspan></text>
<text class="tb" font-size="46" y="2718.22"><tspan x="1588.19" textLength="24.61" lengthAdjust="spacingAndGlyphs">0</tspan><tspan x="1614.75">.</tspan><tspan x="1635.87" textLength="24.61" lengthAdjust="spacingAndGlyphs">6</tspan><tspan x="1660.19" textLength="24.61" lengthAdjust="spacingAndGlyphs">0</tspan></text>
<text class="tb" font-size="46" y="2718.22"><tspan x="1816.69" textLength="24.61" lengthAdjust="spacingAndGlyphs">0</tspan><tspan x="1843.25">.</tspan><tspan x="1864.69" textLength="24.61" lengthAdjust="spacingAndGlyphs">8</tspan><tspan x="1888.69" textLength="24.61" lengthAdjust="spacingAndGlyphs">0</tspan></text>
<text class="tb" font-size="46" y="2718.22"><tspan x="2043.51" textLength="24.61" lengthAdjust="spacingAndGlyphs">1</tspan><tspan x="2070.75">.</tspan><tspan x="2092.2" textLength="24.61" lengthAdjust="spacingAndGlyphs">0</tspan><tspan x="2116.2" textLength="24.61" lengthAdjust="spacingAndGlyphs">0</tspan></text>
<text class="tb" font-size="46" y="2778.85"><tspan x="1407.47" textLength="22.82" lengthAdjust="spacingAndGlyphs">L</tspan><tspan x="1429.78" textLength="24.61" lengthAdjust="spacingAndGlyphs">3</tspan></text>
<text class="tb" font-size="46" y="2778.85"><tspan x="1588.19" textLength="24.61" lengthAdjust="spacingAndGlyphs">0</tspan><tspan x="1614.75">.</tspan><tspan x="1635.28" textLength="24.61" lengthAdjust="spacingAndGlyphs">7</tspan><tspan x="1660.19" textLength="24.61" lengthAdjust="spacingAndGlyphs">0</tspan></text>
<text class="tb" font-size="46" y="2778.85"><tspan x="1816.69" textLength="24.61" lengthAdjust="spacingAndGlyphs">0</tspan><tspan x="1843.25">.</tspan><tspan x="1864.69" textLength="24.61" lengthAdjust="spacingAndGlyphs">8</tspan><tspan x="1888.23" textLength="24.61" lengthAdjust="spacingAndGlyphs">5</tspan></text>
<text class="tb" font-size="46" y="2778.85"><tspan x="2043.51" textLength="24.61" lengthAdjust="spacingAndGlyphs">1</tspan><tspan x="2070.75">.</tspan><tspan x="2092.2" textLength="24.61" lengthAdjust="spacingAndGlyphs">0</tspan><tspan x="2116.2" textLength="24.61" lengthAdjust="spacingAndGlyphs">0</tspan></text>
<text class="tb" font-size="46" y="2839.48"><tspan x="1407.47" textLength="22.82" lengthAdjust="spacingAndGlyphs">L</tspan><tspan x="1429.9" textLength="24.61" lengthAdjust="spacingAndGlyphs">4</tspan></text>
<text class="tb" font-size="46" y="2839.48"><tspan x="1588.19" textLength="24.61" lengthAdjust="spacingAndGlyphs">0</tspan><tspan x="1614.75">.</tspan><tspan x="1636.19" textLength="24.61" lengthAdjust="spacingAndGlyphs">0</tspan><tspan x="1660.19" textLength="24.61" lengthAdjust="spacingAndGlyphs">0</tspan></text>
<text class="tb" font-size="46" y="2839.48"><tspan x="1816.69" textLength="24.61" lengthAdjust="spacingAndGlyphs">0</tspan><tspan x="1843.25">.</tspan><tspan x="1864.69" textLength="24.61" lengthAdjust="spacingAndGlyphs">0</tspan><tspan x="1888.23" textLength="24.61" lengthAdjust="spacingAndGlyphs">5</tspan></text>
<text class="tb" font-size="46" y="2839.48"><tspan x="2044.19" textLength="24.61" lengthAdjust="spacingAndGlyphs">0</tspan><tspan x="2070.75">.</tspan><tspan x="2092.47" textLength="24.61" lengthAdjust="spacingAndGlyphs">2</tspan><tspan x="2116.2" textLength="24.61" lengthAdjust="spacingAndGlyphs">0</tspan></text>
<text class="tb" font-size="46" y="2900.11"><tspan x="1407.47" textLength="22.82" lengthAdjust="spacingAndGlyphs">L</tspan><tspan x="1429.53" textLength="24.61" lengthAdjust="spacingAndGlyphs">5</tspan></text>
<text class="tb" font-size="46" y="2900.11"><tspan x="1588.47" textLength="24.61" lengthAdjust="spacingAndGlyphs">2</tspan><tspan x="1614.75">.</tspan><tspan x="1636.19" textLength="24.61" lengthAdjust="spacingAndGlyphs">8</tspan><tspan x="1660.19" textLength="24.61" lengthAdjust="spacingAndGlyphs">0</tspan></text>
<text class="tb" font-size="46" y="2900.11"><tspan x="1816.48" textLength="24.61" lengthAdjust="spacingAndGlyphs">3</tspan><tspan x="1843.25">.</tspan><tspan x="1864.01" textLength="24.61" lengthAdjust="spacingAndGlyphs">1</tspan><tspan x="1888.69" textLength="24.61" lengthAdjust="spacingAndGlyphs">0</tspan></text>
<text class="tb" font-size="46" y="2900.11"><tspan x="2043.98" textLength="24.61" lengthAdjust="spacingAndGlyphs">3</tspan><tspan x="2070.75">.</tspan><tspan x="2092.1" textLength="24.61" lengthAdjust="spacingAndGlyphs">4</tspan><tspan x="2116.2" textLength="24.61" lengthAdjust="spacingAndGlyphs">0</tspan></text>
<text class="tb" font-size="46" y="2960.74"><tspan x="1418.07" textLength="24.47" lengthAdjust="spacingAndGlyphs">H</tspan></text>
<text class="tb" font-size="46" y="2960.74"><tspan x="1588.41" textLength="24.61" lengthAdjust="spacingAndGlyphs">9</tspan><tspan x="1614.75">.</tspan><tspan x="1636.19" textLength="24.61" lengthAdjust="spacingAndGlyphs">8</tspan><tspan x="1660.19" textLength="24.61" lengthAdjust="spacingAndGlyphs">0</tspan></text>
<text class="tb" font-size="46" y="2960.74"><tspan x="1804.01" textLength="24.61" lengthAdjust="spacingAndGlyphs">1</tspan><tspan x="1828.69" textLength="24.61" lengthAdjust="spacingAndGlyphs">0</tspan><tspan x="1855.25">.</tspan><tspan x="1876.01" textLength="24.61" lengthAdjust="spacingAndGlyphs">1</tspan><tspan x="1900.69" textLength="24.61" lengthAdjust="spacingAndGlyphs">0</tspan></text>
<text class="tb" font-size="46" y="2960.74"><tspan x="2031.51" textLength="24.61" lengthAdjust="spacingAndGlyphs">1</tspan><tspan x="2056.2" textLength="24.61" lengthAdjust="spacingAndGlyphs">0</tspan><tspan x="2082.75">.</tspan><tspan x="2104.1" textLength="24.61" lengthAdjust="spacingAndGlyphs">4</tspan><tspan x="2128.2" textLength="24.61" lengthAdjust="spacingAndGlyphs">0</tspan></text>
<text class="sa" font-size="30" transform="translate(1411.88 3019.14) scale(1.5626 1.5631)">&#920;</text>
<text class="tb" font-size="46" y="3021.37"><tspan x="1612.19" textLength="24.61" lengthAdjust="spacingAndGlyphs">0</tspan><tspan x="1639.14" y="3015.37" font-size="36.8">&#176;</tspan></text>
<text class="tb" font-size="46" y="3021.37"><tspan x="2068.2" textLength="24.61" lengthAdjust="spacingAndGlyphs">8</tspan><tspan x="2095.14" y="3015.37" font-size="36.8">&#176;</tspan></text>
<text class="tb" font-size="46" y="3083.3"><tspan x="1418.79" textLength="22.78" lengthAdjust="spacingAndGlyphs">e</tspan></text>
<text class="tb" font-size="46" y="3083.3"><tspan x="1780.5" textLength="24.61" lengthAdjust="spacingAndGlyphs">4</tspan><tspan x="1807.15">.</tspan><tspan x="1828.13" textLength="24.61" lengthAdjust="spacingAndGlyphs">5</tspan><tspan x="1851.68" textLength="24.61" lengthAdjust="spacingAndGlyphs">7</tspan><tspan x="1876.87" textLength="24.61" lengthAdjust="spacingAndGlyphs">2</tspan><tspan x="1900.9" textLength="23.05" lengthAdjust="spacingAndGlyphs">R</tspan><tspan x="1925.54" textLength="23.53" lengthAdjust="spacingAndGlyphs">E</tspan><tspan x="1949.73" textLength="22.64" lengthAdjust="spacingAndGlyphs">F</tspan></text>
</svg>
</body></html>
